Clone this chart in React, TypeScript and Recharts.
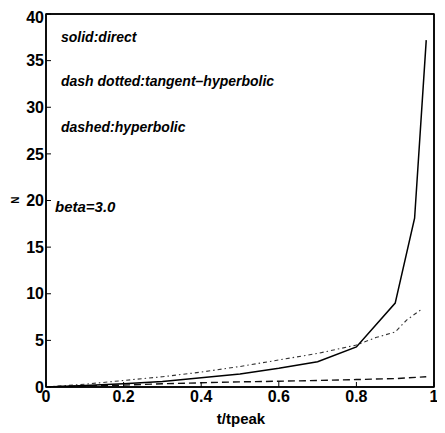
import React from 'react';
import { LineChart, Line, XAxis, YAxis, ReferenceArea } from 'recharts';

const directX = [0, 0.1, 0.2, 0.3, 0.4, 0.5, 0.6, 0.7, 0.8, 0.9, 0.95, 0.98];
const directN = [0, 0.15, 0.35, 0.6, 1.0, 1.4, 2.0, 2.7, 4.3, 9.0, 18.1, 37.2];

const tanhX = [0, 0.1, 0.2, 0.3, 0.4, 0.5, 0.6, 0.7, 0.8, 0.85, 0.9, 0.93, 0.97];
const tanhN = [0, 0.3, 0.7, 1.1, 1.6, 2.2, 2.9, 3.6, 4.5, 5.3, 5.9, 7.2, 8.4];

const hypX = [0, 0.1, 0.2, 0.3, 0.4, 0.5, 0.6, 0.7, 0.8, 0.9, 0.98];
const hypN = [0, 0.1, 0.2, 0.35, 0.45, 0.55, 0.62, 0.7, 0.8, 0.9, 1.1];

const xTicks = [0, 0.2, 0.4, 0.6, 0.8, 1];
const yTicks = [0, 5, 10, 15, 20, 25, 30, 35, 40];
const xTickLabels = ['0', '0.2', '0.4', '0.6', '0.8', '1'];

const notes = ['solid:direct', 'dash dotted:tangent\u2013hyperbolic', 'dashed:hyperbolic'];
const betaNote = 'beta=3.0';
const xTitle = 't/tpeak';
const yTitle = 'N';

const zip = (xs: number[], ys: number[]) => xs.map((x, i) => ({ x, n: ys[i] }));
const directData = zip(directX, directN);
const tanhData = zip(tanhX, tanhN);
const hypData = zip(hypX, hypN);

const FONT = '"Liberation Sans", Arial, Helvetica, sans-serif';
const tickStyle = { fontFamily: FONT, fontSize: 16, fontWeight: 'bold', fill: '#000' };
const hiddenTick = { fontSize: 1, fill: 'none' };

export default function App() {
  return (
    <LineChart
      width={437}
      height={425}
      margin={{ top: 5, right: 10, left: 0, bottom: 0 }}
      style={{ background: '#fff' }}
    >
      <XAxis
        xAxisId="b"
        dataKey="x"
        type="number"
        domain={[0, 1]}
        ticks={xTicks}
        tickFormatter={(v: number) => xTickLabels[xTicks.indexOf(v)] ?? String(v)}
        height={46}
        tickSize={-5}
        tickMargin={9}
        tick={tickStyle}
        axisLine={{ stroke: '#000', strokeWidth: 1.5 }}
        tickLine={{ stroke: '#000', strokeWidth: 1 }}
        allowDataOverflow
      />
      <XAxis
        xAxisId="t"
        dataKey="x"
        type="number"
        orientation="top"
        domain={[0, 1]}
        ticks={xTicks}
        height={1}
        tickSize={-5}
        tickMargin={0}
        tick={hiddenTick}
        tickFormatter={() => ''}
        axisLine={{ stroke: '#000', strokeWidth: 1.5 }}
        tickLine={{ stroke: '#000', strokeWidth: 1 }}
      />
      <YAxis
        yAxisId="l"
        type="number"
        domain={[0, 40]}
        ticks={yTicks}
        width={38}
        tickSize={-5}
        tickMargin={7}
        tick={tickStyle}
        axisLine={{ stroke: '#000', strokeWidth: 1.5 }}
        tickLine={{ stroke: '#000', strokeWidth: 1 }}
        allowDataOverflow
      />
      <YAxis
        yAxisId="r"
        type="number"
        orientation="right"
        domain={[0, 40]}
        ticks={yTicks}
        width={1}
        tickSize={-5}
        tickMargin={0}
        tick={hiddenTick}
        tickFormatter={() => ''}
        axisLine={{ stroke: '#000', strokeWidth: 1.5 }}
        tickLine={{ stroke: '#000', strokeWidth: 1 }}
      />
      <ReferenceArea
        xAxisId="b"
        yAxisId="l"
        x1={0}
        x2={1}
        y1={0}
        y2={40}
        fill="none"
        fillOpacity={0}
        stroke="#000"
        strokeWidth={1.5}
        ifOverflow="visible"
      />
      <Line
        xAxisId="b"
        yAxisId="l"
        data={hypData}
        dataKey="n"
        type="linear"
        stroke="#111"
        strokeWidth={1.4}
        strokeDasharray="7 4"
        dot={false}
        isAnimationActive={false}
      />
      <Line
        xAxisId="b"
        yAxisId="l"
        data={tanhData}
        dataKey="n"
        type="linear"
        stroke="#333"
        strokeWidth={1.1}
        strokeDasharray="4 3 1.5 3"
        dot={false}
        isAnimationActive={false}
      />
      <Line
        xAxisId="b"
        yAxisId="l"
        data={directData}
        dataKey="n"
        type="linear"
        stroke="#000"
        strokeWidth={1.5}
        dot={false}
        isAnimationActive={false}
      />
      <text x={53} y={34} fontFamily={FONT} fontSize={14} fontStyle="italic" fontWeight="bold" fill="#000">{notes[0]}</text>
      <text x={53} y={78} fontFamily={FONT} fontSize={14} fontStyle="italic" fontWeight="bold" fill="#000">{notes[1]}</text>
      <text x={53} y={124} fontFamily={FONT} fontSize={14} fontStyle="italic" fontWeight="bold" fill="#000">{notes[2]}</text>
      <text x={47} y={204} fontFamily={FONT} fontSize={15} fontStyle="italic" fontWeight="bold" fill="#000">{betaNote}</text>
      <text x={233} y={416} textAnchor="middle" fontFamily={FONT} fontSize={15} fontWeight="bold" fill="#000">{xTitle}</text>
      <text x={11} y={192} textAnchor="middle" transform="rotate(-90 11 192)" fontFamily={FONT} fontSize={10} fontWeight="bold" fill="#000">{yTitle}</text>
    </LineChart>
  );
}
